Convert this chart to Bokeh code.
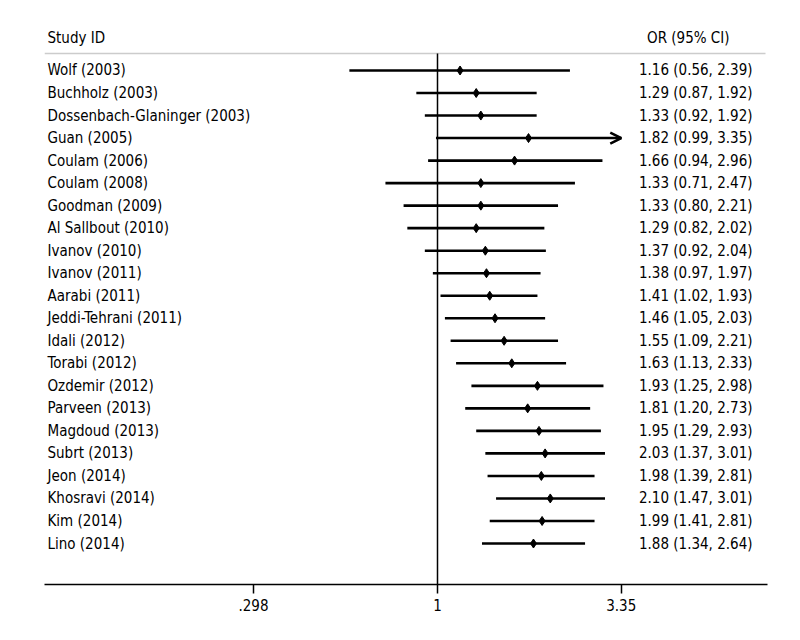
import numpy as np
from bokeh.plotting import figure
from bokeh.models import ColumnDataSource, LabelSet, FixedTicker, Range1d, Label, Arrow, OpenHead
from bokeh.core.properties import value
from bokeh.embed import file_html
from bokeh.resources import INLINE

studies = ["Wolf (2003)", "Buchholz (2003)", "Dossenbach-Glaninger (2003)", "Guan (2005)",
           "Coulam (2006)", "Coulam (2008)", "Goodman (2009)", "Al Sallbout (2010)",
           "Ivanov (2010)", "Ivanov (2011)", "Aarabi (2011)", "Jeddi-Tehrani (2011)",
           "Idali (2012)", "Torabi (2012)", "Ozdemir (2012)", "Parveen (2013)",
           "Magdoud (2013)", "Subrt (2013)", "Jeon (2014)", "Khosravi (2014)",
           "Kim (2014)", "Lino (2014)"]
or_est = [1.16, 1.29, 1.33, 1.82, 1.66, 1.33, 1.33, 1.29, 1.37, 1.38, 1.41, 1.46,
          1.55, 1.63, 1.93, 1.81, 1.95, 2.03, 1.98, 2.10, 1.99, 1.88]
ci_low = [0.56, 0.87, 0.92, 0.99, 0.94, 0.71, 0.80, 0.82, 0.92, 0.97, 1.02, 1.05,
          1.09, 1.13, 1.25, 1.20, 1.29, 1.37, 1.39, 1.47, 1.41, 1.34]
ci_high = [2.39, 1.92, 1.92, 3.35, 2.96, 2.47, 2.21, 2.02, 2.04, 1.97, 1.93, 2.03,
           2.21, 2.33, 2.98, 2.73, 2.93, 3.01, 2.81, 3.01, 2.81, 2.64]
tick_values = [0.298, 1, 3.35]
tick_labels = [".298", "1", "3.35"]
x_clip = 3.35

FONT = "'Liberation Sans Narrow', 'DejaVu Sans Condensed', 'Arial Narrow', 'Roboto Condensed', 'DejaVu Sans', sans-serif"
FS = "15px"

n = len(studies)
ys = [n - i for i in range(n)]
ci_txt = ["%.2f (%.2f, %.2f)" % (o, l, h) for o, l, h in zip(or_est, ci_low, ci_high)]

hi_draw = [min(h, x_clip) for h in ci_high]
clipped = [h >= x_clip for h in ci_high]

src = ColumnDataSource(dict(y=ys, est=or_est, lo=ci_low, hi=hi_draw, name=studies, txt=ci_txt))

# geometry: frame from x 44 to 767, null line at 437, ~152 px per ln unit
FL, FR, X1PX = 44, 767, 437
ppl = 152.0
x0 = np.exp((FL - X1PX) / ppl)
x1 = np.exp((FR - X1PX) / ppl)
row = 22.524
AXIS_Y, TOP_ROW_Y, BOT_ROW_Y = 584, 70, 543
y_bot = 1 - (AXIS_Y - BOT_ROW_Y) / row
y_top = n + TOP_ROW_Y / row

p = figure(width=784, height=624, x_axis_type="log", output_backend="svg",
           toolbar_location=None, min_border_left=FL, min_border_right=784 - FR,
           min_border_top=0, min_border_bottom=624 - AXIS_Y,
           x_range=Range1d(x0, x1), y_range=Range1d(y_bot, y_top))
p.background_fill_color = "white"
p.border_fill_color = "white"
p.outline_line_color = None
p.grid.visible = False
p.yaxis.visible = False

ax = p.xaxis[0]
ax.ticker = FixedTicker(ticks=tick_values, minor_ticks=[])
ax.major_label_overrides = {v: t for v, t in zip(tick_values, tick_labels)}
ax.axis_line_color = "black"
ax.axis_line_width = 1.5
ax.major_tick_line_color = "black"
ax.major_tick_line_width = 1.5
ax.major_tick_in = 0
ax.major_tick_out = 9
ax.minor_tick_line_color = None
ax.major_label_text_font = FONT
ax.major_label_text_font_size = FS
ax.major_label_text_color = "black"
ax.major_label_standoff = 5

sep_y = n + (TOP_ROW_Y - 53) / row
# header separator
p.segment(x0=[x0], x1=[np.exp((765 - X1PX) / ppl)], y0=[sep_y], y1=[sep_y],
          line_color="#cccccc", line_width=1.5)
# null line
p.segment(x0=[1], x1=[1], y0=[sep_y], y1=[y_bot], line_color="black", line_width=1.5)

p.segment(x0="lo", x1="hi", y0="y", y1="y", source=src, line_color="black", line_width=2.6)
p.scatter(x="est", y="y", source=src, marker="diamond", size=9, fill_color="black", line_color="black")

for yy, h, c in zip(ys, hi_draw, clipped):
    if c:
        p.add_layout(Arrow(end=OpenHead(size=11, line_width=2.6, line_color="black"),
                           x_start=h * 0.9, x_end=h, y_start=yy, y_end=yy,
                           line_width=0, line_alpha=0))

p.add_layout(LabelSet(x=3, y="y", x_units="screen", text="name", source=src,
                      text_font=value(FONT), text_font_size=FS, text_color="black",
                      text_baseline="middle", text_align="left"))
p.add_layout(LabelSet(x=752 - FL, y="y", x_units="screen", text="txt", source=src,
                      text_font=value(FONT), text_font_size=FS, text_color="black",
                      text_baseline="middle", text_align="right"))

hy = n + (TOP_ROW_Y - 38) / row
p.add_layout(Label(x=3, y=hy, x_units="screen", text="Study ID", text_font=FONT,
                   text_font_size=FS, text_color="black", text_baseline="middle"))
p.add_layout(Label(x=729 - FL, y=hy, x_units="screen", text="OR (95% CI)", text_font=FONT,
                   text_font_size=FS, text_color="black", text_baseline="middle",
                   text_align="right"))

open("out.html", "w").write(file_html(p, INLINE))
